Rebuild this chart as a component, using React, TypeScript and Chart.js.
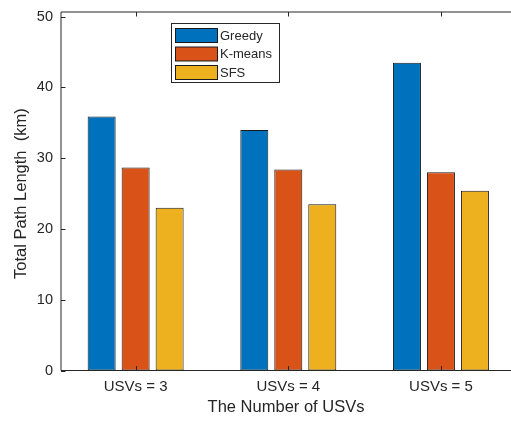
import React, { useEffect, useRef } from "react";
import { Chart, registerables } from "chart.js";

Chart.register(...registerables);

// ---- data ----
const categories = ["USVs = 3", "USVs = 4", "USVs = 5"];
const seriesNames = ["Greedy", "K-means", "SFS"];
const greedy = [35.9, 34.0, 43.5];
const kmeans = [28.7, 28.4, 28.0];
const sfs = [23.0, 23.5, 25.4];
const yTickValues = [0, 10, 20, 30, 40, 50];
const xTitle = "The Number of USVs";
const yTitle = "Total Path Length  (km)";

// ---- styles ----
const colors = ["#0072BD", "#D95319", "#EDB120"];
const FONT = "'Liberation Sans', Arial, Helvetica, sans-serif";
const INK = "#262626";

const axesBox = {
  id: "axesBox",
  afterDatasetsDraw(chart: any) {
    const { ctx, chartArea: a, scales } = chart;
    const xs = scales.x;
    const ys = scales.y;
    const L = a.left;
    const T = 12;
    const B = a.bottom;
    const R = a.right + 10;
    ctx.save();
    ctx.strokeStyle = INK;
    ctx.lineWidth = 1;
    ctx.beginPath();
    ctx.moveTo(R, T);
    ctx.lineTo(L, T);
    ctx.lineTo(L, B);
    ctx.lineTo(R, B);
    ctx.stroke();
    const tl = 4.5;
    ctx.beginPath();
    yTickValues.forEach((v) => {
      const py = Math.round(ys.getPixelForValue(v)) + 0.5;
      ctx.moveTo(L, py);
      ctx.lineTo(L + tl, py);
    });
    categories.forEach((_, i) => {
      const px = Math.round(xs.getPixelForValue(i + 1)) + 0.5;
      ctx.moveTo(px, B);
      ctx.lineTo(px, B - tl);
      ctx.moveTo(px, T);
      ctx.lineTo(px, T + tl);
    });
    ctx.stroke();
    ctx.restore();
  },
};

const legendBox = {
  id: "legendBox",
  afterDraw(chart: any) {
    const { ctx } = chart;
    const bx = 171.5, by = 23.5, bw = 108, bh = 59;
    ctx.save();
    ctx.fillStyle = "#ffffff";
    ctx.fillRect(bx, by, bw, bh);
    ctx.strokeStyle = INK;
    ctx.lineWidth = 1;
    ctx.strokeRect(bx, by, bw, bh);
    ctx.font = `13px ${FONT}`;
    ctx.textBaseline = "middle";
    ctx.textAlign = "left";
    chart.data.datasets.forEach((ds: any, i: number) => {
      const top = 28.5 + i * 18.5;
      ctx.fillStyle = ds.backgroundColor;
      ctx.fillRect(175.5, top, 42, 14);
      ctx.strokeStyle = "#1a1a1a";
      ctx.strokeRect(175.5, top, 42, 14);
      ctx.fillStyle = INK;
      ctx.fillText(ds.label, 220, top + 7.5);
    });
    ctx.restore();
  },
};

function ChartView() {
  const ref = useRef<HTMLCanvasElement | null>(null);
  useEffect(() => {
    if (!ref.current) return;
    const series = [greedy, kmeans, sfs];
    const chart = new Chart(ref.current, {
      type: "bar",
      data: {
        datasets: series.map((vals, si) => ({
          label: seriesNames[si],
          data: vals.map((v, i) => ({ x: i + 1, y: v })),
          backgroundColor: colors[si],
          borderColor: "#1a1a1a",
          borderWidth: 1,
          borderSkipped: false,
          categoryPercentage: 0.668,
          barPercentage: 0.824,
        })),
      },
      options: {
        responsive: false,
        animation: false,
        layout: { padding: { left: 0, right: 0, top: 12, bottom: 0 } },
        plugins: {
          legend: { display: false },
          tooltip: { enabled: false },
        },
        scales: {
          x: {
            type: "linear",
            min: 0.511,
            max: 3.459,
            offset: false,
            grid: { display: false, drawTicks: false, tickLength: 0 },
            border: { display: false },
            afterBuildTicks: (scale: any) => {
              scale.ticks = categories.map((_, i) => ({ value: i + 1 }));
            },
            afterFit: (scale: any) => {
              scale.height = 50.5;
            },
            ticks: {
              autoSkip: false,
              maxRotation: 0,
              padding: 7,
              color: INK,
              font: { family: FONT, size: 15 },
              callback: (v: any) => categories[Math.round(Number(v)) - 1] ?? "",
            },
            title: {
              display: true,
              text: xTitle,
              color: INK,
              font: { family: FONT, size: 16.5 },
              padding: { top: 0, bottom: 3.3 },
            },
          },
          y: {
            type: "linear",
            min: 0,
            max: 50,
            grid: { display: false, drawTicks: false, tickLength: 0 },
            border: { display: false },
            afterFit: (scale: any) => {
              scale.width = 61;
            },
            afterBuildTicks: (scale: any) => {
              scale.ticks = yTickValues.map((v) => ({ value: v }));
            },
            ticks: {
              padding: 8,
              color: INK,
              font: { family: FONT, size: 14.5 },
            },
            title: {
              display: true,
              text: yTitle,
              color: INK,
              font: { family: FONT, size: 16.5 },
              padding: { top: 11.8, bottom: 0 },
            },
          },
        },
      },
      plugins: [axesBox, legendBox],
    } as any);
    return () => chart.destroy();
  }, []);
  return (
    <div style={{ position: "absolute", left: 0, top: 0, width: 511, height: 421, background: "#fff" }}>
      <canvas ref={ref} width={511} height={421} style={{ display: "block" }} />
    </div>
  );
}

export default function App() {
  return <ChartView />;
}
